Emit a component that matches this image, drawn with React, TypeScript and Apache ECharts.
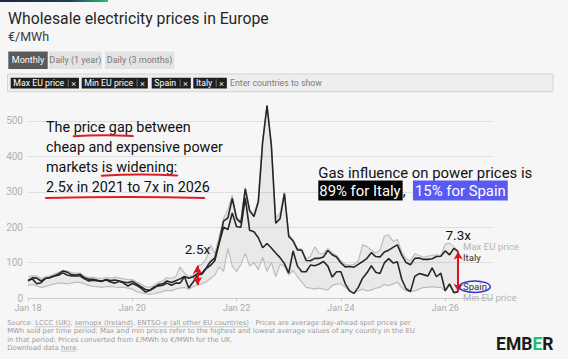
import React, { useEffect, useRef } from "react";
import * as echarts from "echarts";

// ---------- axis categories & ticks ----------
const MONTHS = ["Jan", "Feb", "Mar", "Apr", "May", "Jun", "Jul", "Aug", "Sep", "Oct", "Nov", "Dec"];
const categories: string[] = [];
for (let y = 2018; y <= 2026; y++) for (const m of MONTHS) categories.push(`${m} ${String(y).slice(2)}`);
const xTickLabels = ["Jan 18", "Jan 20", "Jan 22", "Jan 24", "Jan 26"];
const yTickLabels = [0, 100, 200, 300, 400, 500];

// ---------- data (€/MWh, monthly Jan 2018 – Apr 2026) ----------
const italy = [
  49, 57, 56, 48, 55, 57, 62, 68, 76, 73, 66, 65,
  67, 57, 53, 53, 50, 48, 52, 49, 51, 48, 45, 43,
  47, 40, 32, 24, 22, 28, 38, 40, 48, 44, 49, 54,
  61, 56, 60, 69, 70, 85, 103, 113, 158, 217, 226, 281,
  224, 212, 308, 246, 230, 272, 441, 543, 430, 211, 224, 295,
  174, 161, 136, 135, 106, 105, 112, 112, 116, 134, 122, 116,
  99, 88, 89, 87, 95, 103, 112, 128, 117, 116, 130, 135,
  143, 150, 121, 100, 94, 112, 113, 109, 109, 111, 117, 118,
  133, 122, 140, 131,
];
const spain = [
  49, 54, 40, 43, 55, 58, 62, 64, 71, 65, 62, 62,
  62, 54, 48, 50, 48, 47, 51, 45, 42, 47, 42, 34,
  41, 36, 28, 17, 21, 31, 34, 36, 42, 36, 42, 42,
  60, 28, 45, 65, 67, 83, 92, 106, 156, 200, 193, 240,
  201, 200, 283, 191, 187, 170, 142, 154, 141, 127, 114, 97,
  70, 133, 90, 74, 74, 93, 91, 96, 103, 90, 59, 74,
  74, 40, 20, 13, 30, 56, 71, 91, 73, 69, 99, 111,
  99, 102, 53, 26, 18, 61, 69, 66, 62, 85, 60, 70,
  20, 40, 15, 18,
];
const maxEU = [
  60, 63, 62, 55, 60, 62, 68, 72, 78, 76, 72, 70,
  70, 62, 58, 58, 56, 55, 58, 56, 58, 56, 54, 52,
  52, 45, 40, 32, 30, 36, 44, 48, 58, 55, 60, 88,
  70, 60, 65, 91, 95, 110, 150, 125, 175, 225, 250, 290,
  230, 215, 312, 250, 235, 278, 445, 545, 435, 225, 240, 300,
  178, 165, 140, 138, 110, 118, 145, 125, 125, 140, 128, 120,
  105, 95, 92, 95, 105, 150, 145, 135, 128, 135, 175, 178,
  160, 165, 130, 110, 105, 125, 120, 115, 118, 120, 122, 120,
  152, 155, 145, 131,
];
const minEU = [
  35, 38, 34, 30, 32, 36, 40, 42, 42, 40, 42, 45,
  44, 40, 35, 33, 32, 30, 32, 33, 31, 30, 30, 28,
  25, 18, 15, 12, 10, 12, 15, 18, 22, 20, 25, 28,
  30, 25, 32, 37, 40, 45, 55, 65, 88, 75, 140, 90,
  75, 95, 126, 90, 100, 80, 115, 75, 100, 60, 95, 90,
  65, 78, 60, 45, 30, 28, 25, 28, 25, 22, 35, 40,
  40, 30, 20, 13, 20, 25, 20, 22, 28, 30, 38, 35,
  40, 45, 30, 20, 18, 20, 25, 30, 30, 32, 30, 30,
  20, 35, 15, 18,
];
const gapArrows = [
  { month: "Apr 21", label: "2.5x" },
  { month: "Apr 26", label: "7.3x" },
];

// ---------- texts ----------
const TITLE = "Wholesale electricity prices in Europe";
const SUBTITLE = "€/MWh";
const tabs = ["Monthly", "Daily (1 year)", "Daily (3 months)"];
const chips = ["Max EU price", "Min EU price", "Spain", "Italy"];
const noteLines = [
  "The price gap between",
  "cheap and expensive power",
  "markets is widening:",
  "2.5x in 2021 to 7x in 2026",
];
const gasLine = "Gas influence on power prices is";
const gasItaly = "89% for Italy";
const gasSpain = "15% for Spain";
const footerLines = [
  "Source: LCCC (UK), semopx (Ireland), ENTSO-e (all other EU countries) · Prices are average day-ahead spot prices per",
  "MWh sold per time period; Max and min prices refer to the highest and lowest average values of any country in the EU",
  "in that period; Prices converted from £/MWh to €/MWh for the UK.",
  "Download data here.",
];
const footerLinks: [number, string][] = [
  [0, "LCCC (UK)"],
  [0, "semopx (Ireland)"],
  [0, "ENTSO-e (all other EU countries)"],
  [3, "here"],
];

const UI = "Roboto, 'Noto Sans', sans-serif";
const HAND = "Roboto, 'Noto Sans', sans-serif";
const FOOT = "'DejaVu Sans', sans-serif";

let ctx: CanvasRenderingContext2D | null = null;
function tw(text: string, size: number, family: string, weight: string | number = "normal") {
  if (!ctx) ctx = document.createElement("canvas").getContext("2d");
  ctx!.font = `${weight} ${size}px ${family}`;
  return ctx!.measureText(text).width;
}
function fit(text: string, family: string, target: number, weight: string | number = "normal") {
  return (20 * target) / tw(text, 20, family, weight);
}

function buildOption() {
  const g: any[] = [];
  // top stripe
  g.push({
    type: "rect",
    z: 100,
    shape: { x: 0, y: 0, width: 108, height: 2 },
    style: {
      fill: new echarts.graphic.LinearGradient(0, 0, 1, 0, [
        { offset: 0, color: "#1d2442" },
        { offset: 0.65, color: "#1f3f55" },
        { offset: 1, color: "#2bbf6f" },
      ]),
    },
  });
  // title & subtitle
  const titleSize = fit(TITLE, UI, 261);
  g.push({
    type: "text", z: 100, x: 8, y: 18.5,
    style: { text: TITLE, fontSize: titleSize, fontFamily: UI, fill: "#262626", verticalAlign: "middle" },
  });
  g.push({
    type: "text", z: 100, x: 8, y: 36.5,
    style: { text: SUBTITLE, fontSize: 12.5, fontFamily: UI, fill: "#3a3a3a", verticalAlign: "middle" },
  });
  // tabs
  const tabBoxes = [[8.3, 47.7], [49, 101.7], [105, 174.3]];
  tabs.forEach((t, i) => {
    const [a, b] = tabBoxes[i];
    g.push({
      type: "rect", z: 100,
      shape: { x: a, y: 51.5, width: b - a, height: 17.5 },
      style: { fill: i === 0 ? "#5a5a5a" : "#e3e3e3" },
    });
    g.push({
      type: "text", z: 101, x: (a + b) / 2, y: 60.4,
      style: {
        text: t, fontSize: 9, fontFamily: UI, fill: i === 0 ? "#ffffff" : "#7a7a7a",
        align: "center", verticalAlign: "middle",
      },
    });
  });
  // filter box
  g.push({
    type: "rect", z: 100,
    shape: { x: 7.5, y: 74, width: 545.5, height: 17.7 },
    style: { fill: "#eeeeee", stroke: "#d4d4d4", lineWidth: 1 },
  });
  const chipSize = fit("Max EU price", UI, 51);
  const chipStarts = [10.7, 81.7, 151.7, 193.3];
  chips.forEach((c, i) => {
    const x0 = chipStarts[i];
    const w = tw(c, chipSize, UI);
    const sep = x0 + 2.6 + w + 4;
    const x1 = sep + 10.7;
    g.push({
      type: "rect", z: 101,
      shape: { x: x0, y: 77.7, width: x1 - x0, height: 10.7 },
      style: { fill: "#1f1f1f" },
    });
    g.push({
      type: "text", z: 102, x: x0 + 2.6, y: 83.1,
      style: { text: c, fontSize: chipSize, fontFamily: UI, fill: "#ffffff", verticalAlign: "middle" },
    });
    g.push({
      type: "line", z: 102,
      shape: { x1: sep, y1: 79.3, x2: sep, y2: 86.7 },
      style: { stroke: "#8a8a8a", lineWidth: 0.8 },
    });
    g.push({
      type: "text", z: 102, x: sep + 5.4, y: 83,
      style: { text: "×", fontSize: chipSize + 0.5, fontFamily: UI, fill: "#e0e0e0", align: "center", verticalAlign: "middle" },
    });
  });
  g.push({
    type: "text", z: 101, x: 230, y: 83,
    style: { text: "Enter countries to show", fontSize: chipSize, fontFamily: UI, fill: "#7a7a7a", verticalAlign: "middle" },
  });

  // hand-written style note
  const noteSize = fit(noteLines[1], HAND, 177);
  const noteY = [127.5, 147.5, 167.3, 187.5];
  noteLines.forEach((t, i) => {
    g.push({
      type: "text", z: 50, x: 46, y: noteY[i],
      style: { text: t, fontSize: noteSize, fontFamily: HAND, fill: "#111111", verticalAlign: "middle" },
    });
  });
  const underline = (xa: number, xb: number, y: number) => {
    g.push({
      type: "polyline", z: 51,
      shape: { points: [[xa, y + 0.5], [(xa + xb) / 2, y - 0.6], [xb, y + 0.3]], smooth: 0.5 },
      style: { stroke: "#dc1f26", lineWidth: 2, lineCap: "round", fill: "none" },
    });
  };
  {
    const a = tw("The ", noteSize, HAND), b = tw("The price gap", noteSize, HAND);
    underline(46 + a, 46 + b, 135.8);
    const c = tw("markets ", noteSize, HAND), d = tw("markets is widening:", noteSize, HAND);
    underline(46 + c, 46 + d, 175.2);
    underline(46, 46 + tw(noteLines[3], noteSize, HAND) * 0.965, 197.6);
  }

  // gas note
  const gasSize = fit(gasLine, HAND, 214);
  g.push({
    type: "text", z: 50, x: 318.3, y: 172.5,
    style: { text: gasLine, fontSize: gasSize, fontFamily: HAND, fill: "#111111", verticalAlign: "middle" },
  });
  g.push({
    type: "text", z: 50, x: 318.3, y: 190.5,
    style: {
      text: `{k|${gasItaly}}{c|,  }{b|${gasSpain}}`,
      fontSize: gasSize, fontFamily: HAND, verticalAlign: "middle",
      rich: {
        k: { backgroundColor: "#050505", fill: "#ffffff", color: "#ffffff", padding: [3, 2, 2, 1], fontSize: gasSize, fontFamily: HAND, lineHeight: gasSize + 2 },
        c: { fill: "#111111", color: "#111111", fontSize: gasSize, fontFamily: HAND, lineHeight: gasSize + 2 },
        b: { backgroundColor: "#5a5af2", fill: "#ffffff", color: "#ffffff", padding: [3, 2, 2, 2], fontSize: gasSize, fontFamily: HAND, lineHeight: gasSize + 2 },
      },
    },
  });

  // right-side series labels
  const sideLabels = [
    { t: "Max EU price", y: 246.7, c: "#b5b5b5" },
    { t: "Italy", y: 257.7, c: "#333333" },
    { t: "Spain", y: 286.7, c: "#333333" },
    { t: "Min EU price", y: 297.7, c: "#b5b5b5" },
  ];
  sideLabels.forEach((s) => {
    g.push({
      type: "text", z: 50, x: 463, y: s.y,
      style: { text: s.t, fontSize: 9.6, fontFamily: UI, fill: s.c, verticalAlign: "middle" },
    });
  });
  g.push({
    type: "ellipse", z: 50,
    shape: { cx: 474.7, cy: 286.7, rx: 15.5, ry: 5.8 },
    style: { fill: "none", stroke: "#3434c8", lineWidth: 1.5 },
  });

  // footer
  const footSize = Math.min(6.85, fit(footerLines[0], FOOT, 458.5));
  const footY = [323.3, 331.4, 339.5, 347.6];
  footerLines.forEach((t, i) => {
    g.push({
      type: "text", z: 50, x: 7.2, y: footY[i],
      style: { text: t, fontSize: footSize, fontFamily: FOOT, fill: "#9c9c9c", verticalAlign: "middle", lineHeight: footSize },
    });
  });
  footerLinks.forEach(([li, word]) => {
    const line = footerLines[li];
    const s = 7.2 + tw(line.slice(0, line.indexOf(word)), footSize, FOOT);
    const e = s + tw(word, footSize, FOOT);
    g.push({
      type: "line", z: 50,
      shape: { x1: s, y1: footY[li] + 3.5, x2: e, y2: footY[li] + 3.5 },
      style: { stroke: "#a8a8a8", lineWidth: 0.6 },
    });
  });
  // logo
  g.push({
    type: "text", z: 50, x: 553.5, y: 344,
    style: {
      text: "{d|EMB}{g|E}{d|R}", align: "right", verticalAlign: "middle", fontSize: 17, fontWeight: "bold", fontFamily: UI,
      rich: {
        d: { fill: "#1b1b1b", color: "#1b1b1b", fontSize: 17.5, fontWeight: "bold", fontFamily: UI },
        g: { fill: "#1fbf74", color: "#1fbf74", fontSize: 17.5, fontWeight: "bold", fontFamily: UI },
      },
    },
  });

  const bandDiff = maxEU.map((v, i) => v - minEU[i]);
  const isTick = (_i: number, v: string) => xTickLabels.includes(v);

  return {
    animation: false,
    backgroundColor: "#f6f6f6",
    grid: { left: 28, right: 75, top: 85.5, bottom: 61, containLabel: false },
    xAxis: {
      type: "category",
      data: categories,
      boundaryGap: false,
      axisLine: { lineStyle: { color: "#cccccc", width: 1 } },
      axisTick: { show: true, length: 3, interval: isTick, lineStyle: { color: "#c8c8c8" } },
      axisLabel: { interval: isTick, color: "#ababab", fontSize: 9, margin: 5, fontFamily: UI },
      splitLine: { show: false },
    },
    yAxis: {
      type: "value",
      min: 0,
      max: 600,
      interval: 100,
      axisLine: { show: false },
      axisTick: { show: false },
      axisLabel: {
        color: "#b0b0b0", fontSize: 10, margin: 5, fontFamily: UI,
        formatter: (v: number) => (yTickLabels.includes(v) ? String(v) : ""),
      },
      splitLine: { lineStyle: { color: "#dedede", width: 1 } },
    },
    graphic: { elements: g },
    series: [
      {
        name: "bandBase", type: "line", data: minEU, stack: "band", symbol: "none", silent: true, z: 1,
        lineStyle: { opacity: 0 },
      },
      {
        name: "band", type: "line", data: bandDiff, stack: "band", symbol: "none", silent: true, z: 1,
        lineStyle: { opacity: 0 },
        areaStyle: { color: "rgba(0,0,0,0.075)" },
      },
      {
        name: "Max EU price", type: "line", data: maxEU, symbol: "none", z: 2,
        lineStyle: { color: "#bdbdbd", width: 1.2 },
      },
      {
        name: "Min EU price", type: "line", data: minEU, symbol: "none", z: 2,
        lineStyle: { color: "#bdbdbd", width: 1.2 },
      },
      {
        name: "Spain", type: "line", data: spain, symbol: "none", z: 3,
        lineStyle: { color: "#262626", width: 1.6 },
      },
      {
        name: "Italy", type: "line", data: italy, symbol: "none", z: 4,
        lineStyle: { color: "#262626", width: 1.6 },
        markLine: {
          silent: true,
          symbol: ["arrow", "arrow"],
          symbolSize: [7, 8],
          lineStyle: { color: "#e3101c", width: 2, type: "solid" },
          label: {
            show: true, position: "start", formatter: "{b}", color: "#111111",
            fontSize: 13.5, fontFamily: HAND, distance: 10,
          },
          data: gapArrows.map((a) => {
            const i = categories.indexOf(a.month);
            return [
              { name: a.label, coord: [a.month, maxEU[i]] },
              { coord: [a.month, minEU[i]] },
            ];
          }),
        },
      },
    ],
  };
}

export default function App() {
  const ref = useRef<HTMLDivElement>(null);
  useEffect(() => {
    if (!ref.current) return;
    const chart = echarts.init(ref.current, undefined, { renderer: "svg" });
    chart.setOption(buildOption() as any);
    return () => chart.dispose();
  }, []);
  return <div ref={ref} style={{ position: "fixed", left: 0, top: 0, width: 568, height: 359 }} />;
}
